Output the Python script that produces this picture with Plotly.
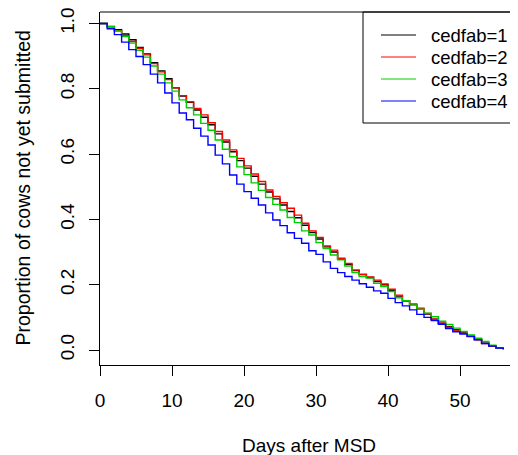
import plotly.graph_objects as go

days = list(range(0, 57))

surv_cedfab1 = [1.000, 0.991, 0.981, 0.968, 0.950, 0.927, 0.907, 0.880, 0.855, 0.831,
                0.803, 0.778, 0.759, 0.735, 0.713, 0.690, 0.662, 0.637, 0.607, 0.580,
                0.557, 0.532, 0.508, 0.484, 0.463, 0.444, 0.424, 0.405, 0.382, 0.360,
                0.340, 0.316, 0.300, 0.278, 0.262, 0.243, 0.231, 0.222, 0.210, 0.200,
                0.182, 0.165, 0.150, 0.139, 0.126, 0.110, 0.094, 0.082, 0.071, 0.062,
                0.052, 0.043, 0.033, 0.021, 0.012, 0.005, 0.002]
surv_cedfab2 = [1.000, 0.990, 0.978, 0.963, 0.945, 0.924, 0.904, 0.877, 0.852, 0.828,
                0.803, 0.779, 0.760, 0.740, 0.720, 0.696, 0.669, 0.643, 0.613, 0.587,
                0.564, 0.539, 0.516, 0.490, 0.470, 0.451, 0.434, 0.413, 0.388, 0.365,
                0.345, 0.319, 0.306, 0.281, 0.265, 0.245, 0.232, 0.224, 0.214, 0.202,
                0.186, 0.168, 0.151, 0.141, 0.128, 0.112, 0.094, 0.082, 0.070, 0.061,
                0.051, 0.042, 0.031, 0.020, 0.012, 0.005, 0.002]
surv_cedfab3 = [1.000, 0.990, 0.977, 0.960, 0.940, 0.918, 0.897, 0.870, 0.845, 0.818,
                0.793, 0.766, 0.742, 0.720, 0.694, 0.673, 0.643, 0.615, 0.592, 0.561,
                0.537, 0.512, 0.489, 0.467, 0.446, 0.429, 0.406, 0.390, 0.365, 0.352,
                0.329, 0.311, 0.291, 0.276, 0.257, 0.237, 0.225, 0.220, 0.204, 0.194,
                0.179, 0.160, 0.151, 0.138, 0.125, 0.113, 0.102, 0.088, 0.078, 0.067,
                0.057, 0.046, 0.036, 0.026, 0.015, 0.006, 0.002]
surv_cedfab4 = [1.000, 0.984, 0.966, 0.943, 0.920, 0.899, 0.874, 0.845, 0.818, 0.787,
                0.757, 0.726, 0.705, 0.679, 0.655, 0.628, 0.597, 0.570, 0.536, 0.508,
                0.485, 0.465, 0.444, 0.420, 0.398, 0.381, 0.359, 0.342, 0.327, 0.304,
                0.293, 0.270, 0.250, 0.237, 0.225, 0.214, 0.203, 0.192, 0.181, 0.174,
                0.158, 0.145, 0.135, 0.123, 0.109, 0.100, 0.090, 0.079, 0.066, 0.056,
                0.049, 0.041, 0.031, 0.020, 0.012, 0.006, 0.002]

series_names = ["cedfab=1", "cedfab=2", "cedfab=3", "cedfab=4"]
series_values = [surv_cedfab1, surv_cedfab2, surv_cedfab3, surv_cedfab4]
series_colors = ["#000000", "#FF0000", "#00CD00", "#0000FF"]

x_ticks = [0, 10, 20, 30, 40, 50]
y_ticks = [0.0, 0.2, 0.4, 0.6, 0.8, 1.0]
y_tick_labels = ["0.0", "0.2", "0.4", "0.6", "0.8", "1.0"]

FONT = "Liberation Sans, Arial, sans-serif"
OFF = 8  # page body margin
W, H = 518 - OFF, 455 - OFF
L, R, T, B = 100 - OFF, 0, 12 - OFF, 90
pw, ph = W - L - R, H - T - B

def px(xp):
    return (xp - OFF - L) / pw

def py(yp):
    return (H - B - (yp - OFF)) / ph

fig = go.Figure()
for name, vals, col in zip(series_names, series_values, series_colors):
    fig.add_trace(go.Scatter(x=days, y=vals, mode="lines", name=name,
                             line=dict(color=col, width=1.4, shape="hv"),
                             showlegend=False))

shapes = []
shapes.append(dict(type="line", xref="paper", yref="paper", x0=0, x1=1.05, y0=1, y1=1,
                   line=dict(color="black", width=1)))
shapes.append(dict(type="rect", xref="paper", yref="paper", x0=px(363), x1=px(540),
                   y0=py(123), y1=1, line=dict(color="black", width=1)))
annotations = []
rows = [35, 57, 79, 101]
for name, col, r in zip(series_names, series_colors, rows):
    shapes.append(dict(type="line", xref="paper", yref="paper", x0=px(381), x1=px(416),
                       y0=py(r), y1=py(r), line=dict(color=col, width=1)))
    annotations.append(dict(xref="paper", yref="paper", x=px(429), y=py(r), text=name,
                            showarrow=False, xanchor="left", yanchor="middle",
                            font=dict(family=FONT, size=18.5, color="black")))

annotations.append(dict(xref="paper", yref="paper", x=0.5, y=py(445), text="Days after MSD",
                        showarrow=False, xanchor="center", yanchor="middle",
                        font=dict(family=FONT, size=19, color="black")))
annotations.append(dict(xref="paper", yref="paper", x=px(22), y=0.5,
                        text="Proportion of cows not yet submitted", textangle=-90,
                        showarrow=False, xanchor="center", yanchor="middle",
                        font=dict(family=FONT, size=19.5, color="black")))

fig.update_layout(
    width=W, height=H,
    margin=dict(l=L, r=R, t=T, b=B, pad=0),
    paper_bgcolor="white", plot_bgcolor="white",
    font=dict(family=FONT, size=19, color="black"),
    shapes=shapes, annotations=annotations,
)
fig.update_xaxes(range=[0, pw / 7.2], tickvals=x_ticks, ticks="outside", ticklen=10,
                 tickcolor="black", showline=True, linecolor="black", linewidth=1,
                 ticklabelstandoff=8, ticklabeloverflow="allow",
                 showgrid=False, zeroline=False, tickfont=dict(family=FONT, size=19))
fig.update_yaxes(range=[-15 / 326.5, 338 / 326.5], tickvals=y_ticks, ticktext=y_tick_labels,
                 ticks="outside", ticklen=10, tickangle=-90, ticklabelstandoff=7,
                 ticklabeloverflow="allow",
                 tickcolor="black", showline=True, linecolor="black", linewidth=1,
                 showgrid=False, zeroline=False, tickfont=dict(family=FONT, size=19))

fig.write_html("out.html")
